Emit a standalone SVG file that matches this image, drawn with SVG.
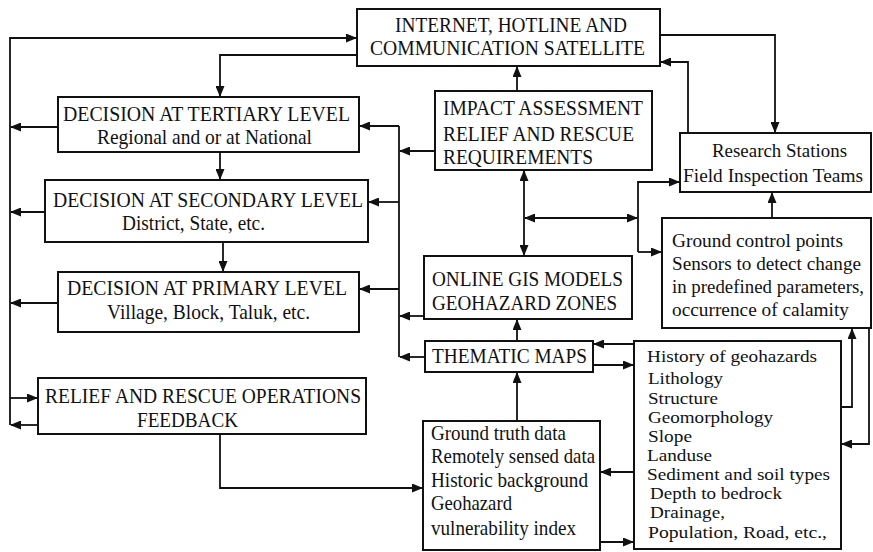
<svg xmlns="http://www.w3.org/2000/svg" width="873" height="552" viewBox="0 0 873 552">
<defs>
<marker id="ah" markerUnits="userSpaceOnUse" markerWidth="11" markerHeight="9" refX="10" refY="4.5" orient="auto-start-reverse">
<path d="M0,0 L11,4.5 L0,9 Z" fill="#111"/>
</marker>
<style>
.box{fill:#fff;stroke:#111;stroke-width:2}
.t{font-family:"Liberation Serif","Times New Roman",serif;font-size:22px;fill:#111}
.r{font-family:"Liberation Serif","Times New Roman",serif;font-size:21px;fill:#111}
.n{font-family:"Liberation Serif","Times New Roman",serif;font-size:19px;fill:#111}
.s{font-family:"Liberation Serif","Times New Roman",serif;font-size:17px;fill:#111}
.c{fill:none;stroke:#111;stroke-width:1.8}
.a{marker-end:url(#ah)}
.b{marker-start:url(#ah);marker-end:url(#ah)}
</style>
</defs>
<rect width="873" height="552" fill="#fff"/>

<g id="connectors">
<path class="c a" d="M10,425 V38 H356"/>
<path class="c a" d="M58,127 H11"/>
<path class="c a" d="M45,212 H11"/>
<path class="c a" d="M58,303 H11"/>
<path class="c a" d="M38,425 H11"/>
<path class="c a" d="M10,398 H37"/>
<path class="c a" d="M357,55 H220 V96"/>
<path class="c a" d="M220,152 V179"/>
<path class="c a" d="M223,242 V271"/>
<path class="c" d="M399,126 V357"/>
<path class="c a" d="M435,151 H400"/>
<path class="c a" d="M399,126 H360"/>
<path class="c a" d="M399,202 H369"/>
<path class="c a" d="M399,289 H360"/>
<path class="c a" d="M424,316 H400"/>
<path class="c a" d="M425,357 H400"/>
<path class="c a" d="M517,91 V67"/>
<path class="c a" d="M660,35 H775 V132"/>
<path class="c a" d="M688,133 V62 H661"/>
<path class="c b" d="M524,171 V255"/>
<path class="c b" d="M525,218 H637"/>
<path class="c a" d="M638,252 V182 H679"/>
<path class="c a" d="M638,252 H661"/>
<path class="c a" d="M772,218 V193"/>
<path class="c a" d="M517,341 V320"/>
<path class="c a" d="M634,344 H594"/>
<path class="c a" d="M593,365 H633"/>
<path class="c a" d="M841,407 H852 V329"/>
<path class="c a" d="M869,328 V444 H842"/>
<path class="c a" d="M517,421 V373"/>
<path class="c a" d="M634,472 H601"/>
<path class="c a" d="M600,542 H633"/>
<path class="c a" d="M220,434 V488 H422"/>
</g>

<g id="internet">
<rect class="box" x="357" y="9" width="303" height="57"/>
<text class="t" x="395" y="32" textLength="232" lengthAdjust="spacingAndGlyphs">INTERNET, HOTLINE AND</text>
<text class="t" x="370" y="55" textLength="275" lengthAdjust="spacingAndGlyphs">COMMUNICATION SATELLITE</text>
</g>

<g id="tertiary">
<rect class="box" x="58" y="97" width="301" height="55"/>
<text class="t" x="63" y="121" textLength="287" lengthAdjust="spacingAndGlyphs">DECISION AT TERTIARY LEVEL</text>
<text class="r" x="97" y="144" textLength="215" lengthAdjust="spacingAndGlyphs">Regional and or at National</text>
</g>

<g id="secondary">
<rect class="box" x="45" y="180" width="323" height="62"/>
<text class="t" x="53" y="207" textLength="310" lengthAdjust="spacingAndGlyphs">DECISION AT SECONDARY LEVEL</text>
<text class="r" x="122" y="230" textLength="143" lengthAdjust="spacingAndGlyphs">District, State, etc.</text>
</g>

<g id="primary">
<rect class="box" x="58" y="272" width="301" height="60"/>
<text class="t" x="67" y="295" textLength="280" lengthAdjust="spacingAndGlyphs">DECISION AT PRIMARY LEVEL</text>
<text class="r" x="107" y="319" textLength="203" lengthAdjust="spacingAndGlyphs">Village, Block, Taluk, etc.</text>
</g>

<g id="feedback">
<rect class="box" x="38" y="378" width="328" height="56"/>
<text class="t" x="45" y="403" textLength="316" lengthAdjust="spacingAndGlyphs">RELIEF AND RESCUE OPERATIONS</text>
<text class="t" x="137" y="427" textLength="101" lengthAdjust="spacingAndGlyphs">FEEDBACK</text>
</g>

<g id="impact">
<rect class="box" x="435" y="91" width="217" height="79"/>
<text class="t" x="443" y="115" textLength="200" lengthAdjust="spacingAndGlyphs">IMPACT ASSESSMENT</text>
<text class="t" x="443" y="141" textLength="191" lengthAdjust="spacingAndGlyphs">RELIEF AND RESCUE</text>
<text class="t" x="443" y="164" textLength="150" lengthAdjust="spacingAndGlyphs">REQUIREMENTS</text>
</g>

<g id="research">
<rect class="box" x="680" y="133" width="191" height="59"/>
<text class="n" x="712" y="157" textLength="135" lengthAdjust="spacingAndGlyphs">Research Stations</text>
<text class="n" x="683" y="182" textLength="180" lengthAdjust="spacingAndGlyphs">Field Inspection Teams</text>
</g>

<g id="gis">
<rect class="box" x="424" y="256" width="208" height="63"/>
<text class="t" x="432" y="286" textLength="191" lengthAdjust="spacingAndGlyphs">ONLINE GIS MODELS</text>
<text class="t" x="432" y="310" textLength="185" lengthAdjust="spacingAndGlyphs">GEOHAZARD ZONES</text>
</g>

<g id="groundcontrol">
<rect class="box" x="662" y="218" width="209" height="110"/>
<text class="n" x="672" y="247" textLength="171" lengthAdjust="spacingAndGlyphs">Ground control points</text>
<text class="n" x="672" y="270" textLength="189" lengthAdjust="spacingAndGlyphs">Sensors to detect change</text>
<text class="n" x="672" y="293" textLength="192" lengthAdjust="spacingAndGlyphs">in predefined parameters,</text>
<text class="n" x="672" y="316" textLength="177" lengthAdjust="spacingAndGlyphs">occurrence of calamity</text>
</g>

<g id="thematic">
<rect class="box" x="425" y="341" width="168" height="31"/>
<text class="t" x="432" y="363" textLength="155" lengthAdjust="spacingAndGlyphs">THEMATIC MAPS</text>
</g>

<g id="history">
<rect class="box" x="634" y="341" width="207" height="208"/>
<text class="s" x="647" y="362" textLength="170" lengthAdjust="spacingAndGlyphs">History of geohazards</text>
<text class="s" x="648" y="384" textLength="75" lengthAdjust="spacingAndGlyphs">Lithology</text>
<text class="s" x="648" y="404" textLength="70" lengthAdjust="spacingAndGlyphs">Structure</text>
<text class="s" x="648" y="423" textLength="125" lengthAdjust="spacingAndGlyphs">Geomorphology</text>
<text class="s" x="648" y="442" textLength="44" lengthAdjust="spacingAndGlyphs">Slope</text>
<text class="s" x="647" y="461" textLength="65" lengthAdjust="spacingAndGlyphs">Landuse</text>
<text class="s" x="647" y="480" textLength="183" lengthAdjust="spacingAndGlyphs">Sediment and soil types</text>
<text class="s" x="650" y="499" textLength="132" lengthAdjust="spacingAndGlyphs">Depth to bedrock</text>
<text class="s" x="650" y="518" textLength="75" lengthAdjust="spacingAndGlyphs">Drainage,</text>
<text class="s" x="648" y="538" textLength="179" lengthAdjust="spacingAndGlyphs">Population, Road, etc.,</text>
</g>

<g id="groundtruth">
<rect class="box" x="423" y="421" width="177" height="129"/>
<text class="r" x="431" y="440" textLength="135" lengthAdjust="spacingAndGlyphs">Ground truth data</text>
<text class="r" x="431" y="463" textLength="164" lengthAdjust="spacingAndGlyphs">Remotely sensed data</text>
<text class="r" x="431" y="487" textLength="157" lengthAdjust="spacingAndGlyphs">Historic background</text>
<text class="r" x="431" y="510" textLength="81" lengthAdjust="spacingAndGlyphs">Geohazard</text>
<text class="r" x="431" y="535" textLength="145" lengthAdjust="spacingAndGlyphs">vulnerability index</text>
</g>
</svg>
